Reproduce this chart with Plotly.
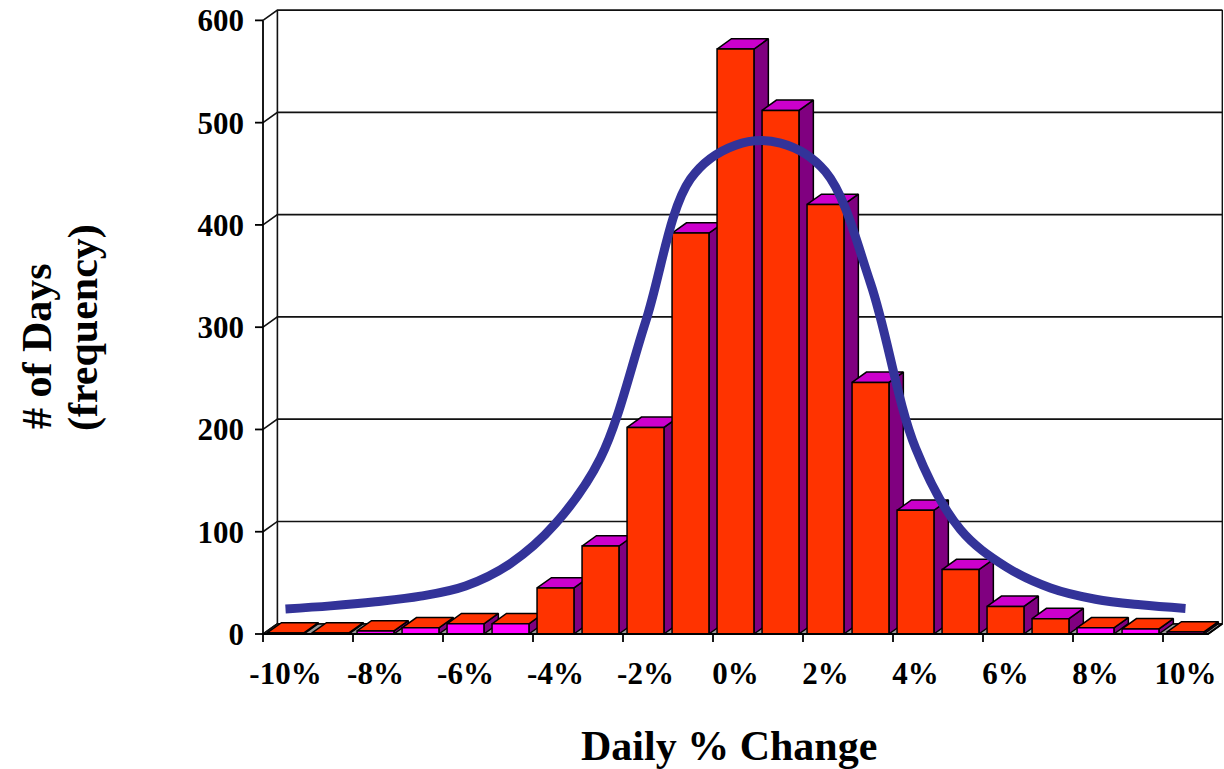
import plotly.graph_objects as go

# ---- data -------------------------------------------------------------
categories = ["-10%", "-9%", "-8%", "-7%", "-6%", "-5%", "-4%", "-3%", "-2%", "-1%",
              "0%", "1%", "2%", "3%", "4%", "5%", "6%", "7%", "8%", "9%", "10%"]
days = [1, 1, 3, 6, 10, 10, 45, 86, 202, 392, 572, 512, 420, 246, 121, 63, 27, 15, 6, 5, 2]
normal_fit = [24.5, 27.5, 31.5, 37, 47, 69, 108, 172, 305, 445, 478, 480, 452, 343,
              182, 102, 66, 45, 34, 28.5, 25]
y_ticks = [0, 100, 200, 300, 400, 500, 600]
x_tick_labels = ["-10%", "-8%", "-6%", "-4%", "-2%", "0%", "2%", "4%", "6%", "8%", "10%"]

# ---- geometry / style -------------------------------------------------
W, H = 1224, 769
ML, MR, MT, MB = 250, 1, 6, 124
PX_X = 45.0          # pixels per category
PX_Y = 1.0227        # pixels per day
PLOT_W = W - ML - MR
PLOT_H = H - MT - MB
X0 = -0.5 - 13 / PX_X
Y0 = -11 / PX_Y
X_RANGE = [X0, X0 + PLOT_W / PX_X]
Y_RANGE = [Y0, Y0 + PLOT_H / PX_Y]

BAR_W = 0.82
DX = 14.4 / PX_X      # depth offset (categories)
DY = 10.3 / PX_Y      # depth offset (days)
LOW = 12              # short columns use the low-column palette
N = len(categories)
LEFT, RIGHT = -0.5, N - 0.5
TOP = y_ticks[-1]

FRONT = "#FF3300"
TOPC = "#CC00CC"
SIDE = "#800080"
LOWFRONT = "#FF00FF"
FLOOR = "#9A9A9A"
CURVE = "#333399"
FONT = "Liberation Serif"


def px_to_paper_x(px):
    return (px - ML) / PLOT_W


def px_to_paper_y(py):
    return (H - MB - py) / PLOT_H


def add_poly(bx, by, pts):
    for x, y in pts:
        bx.append(x)
        by.append(y)
    bx.append(pts[0][0])
    by.append(pts[0][1])
    bx.append(None)
    by.append(None)


fig = go.Figure()

# floor
fx, fy = [], []
add_poly(fx, fy, [(LEFT, 0), (RIGHT, 0), (RIGHT + DX, DY), (LEFT + DX, DY)])
fig.add_trace(go.Scatter(x=fx, y=fy, mode="lines", fill="toself", fillcolor=FLOOR,
                         line=dict(color="black", width=1.5), hoverinfo="skip"))

# walls: gridlines on back wall, diagonals on the side wall
gx, gy = [], []
for v in y_ticks:
    gx += [LEFT, LEFT + DX, RIGHT + DX, None]
    gy += [v, v + DY, v + DY, None]
gx += [LEFT + DX, LEFT + DX, None, RIGHT + DX, RIGHT + DX, None]
gy += [DY, TOP + DY, None, DY, TOP + DY, None]
fig.add_trace(go.Scatter(x=gx, y=gy, mode="lines",
                         line=dict(color="#111111", width=1.6), hoverinfo="skip"))

# 3-D columns: side faces, then tops, then fronts
sx, sy = [], []
tx_hi, ty_hi, tx_lo, ty_lo = [], [], [], []
fx_hi, fy_hi, fx_lo, fy_lo = [], [], [], []
for i, v in enumerate(days):
    xl, xr = i - BAR_W / 2, i + BAR_W / 2
    add_poly(sx, sy, [(xr, 0), (xr + DX, DY), (xr + DX, v + DY), (xr, v)])
    top = [(xl, v), (xr, v), (xr + DX, v + DY), (xl + DX, v + DY)]
    front = [(xl, 0), (xr, 0), (xr, v), (xl, v)]
    if v < LOW:
        add_poly(tx_lo, ty_lo, top)
        add_poly(fx_lo, fy_lo, front)
    else:
        add_poly(tx_hi, ty_hi, top)
        add_poly(fx_hi, fy_hi, front)

for xs, ys, col in [(sx, sy, SIDE), (tx_hi, ty_hi, TOPC), (tx_lo, ty_lo, FRONT),
                    (fx_hi, fy_hi, FRONT), (fx_lo, fy_lo, LOWFRONT)]:
    fig.add_trace(go.Scatter(x=xs, y=ys, mode="lines", fill="toself", fillcolor=col,
                             line=dict(color="black", width=1.5), hoverinfo="skip"))

# fitted normal curve
fig.add_trace(go.Scatter(x=list(range(N)), y=normal_fit, mode="lines",
                         line=dict(color=CURVE, width=9, shape="spline", smoothing=1.0),
                         hoverinfo="skip"))

# front axis lines and tick marks
ax, ay = [LEFT, LEFT, None, LEFT, RIGHT, RIGHT + DX, None], [TOP, 0, None, 0, 0, DY, None]
for v in y_ticks:
    ax += [LEFT - 8 / PX_X, LEFT, None]
    ay += [v, v, None]
for k in range(len(x_tick_labels)):
    b = LEFT + 2 * k
    ax += [b, b, None]
    ay += [0, -8 / PX_Y, None]
fig.add_trace(go.Scatter(x=ax, y=ay, mode="lines",
                         line=dict(color="black", width=1.8), hoverinfo="skip"))

tick_font = dict(family=FONT, size=31, color="black", weight="bold")
fig.update_xaxes(range=X_RANGE, showgrid=False, zeroline=False, showline=False,
                 tickmode="array", tickvals=list(range(0, N, 2)), ticktext=x_tick_labels,
                 ticks="", tickfont=tick_font, ticklabelstandoff=7)
fig.update_yaxes(range=Y_RANGE, showgrid=False, zeroline=False, showline=False,
                 tickmode="array", tickvals=y_ticks, ticktext=[str(v) for v in y_ticks],
                 ticks="", tickfont=tick_font, ticklabelstandoff=5)

title_font = dict(family=FONT, size=42, color="black")
fig.add_annotation(text="<b>Daily % Change</b>", xref="paper", yref="paper",
                   x=px_to_paper_x(729), y=px_to_paper_y(746),
                   xanchor="center", yanchor="middle", showarrow=False, font=title_font)
fig.add_annotation(text="<b># of Days</b>", xref="paper", yref="paper", textangle=-90,
                   x=px_to_paper_x(37), y=px_to_paper_y(346),
                   xanchor="center", yanchor="middle", showarrow=False, font=title_font)
fig.add_annotation(text="<b>(frequency)</b>", xref="paper", yref="paper", textangle=-90,
                   x=px_to_paper_x(84), y=px_to_paper_y(328),
                   xanchor="center", yanchor="middle", showarrow=False, font=title_font)

fig.update_layout(width=W, height=H, showlegend=False,
                  margin=dict(l=ML, r=MR, t=MT, b=MB, pad=0),
                  paper_bgcolor="white", plot_bgcolor="white")

fig.write_html("out.html")
